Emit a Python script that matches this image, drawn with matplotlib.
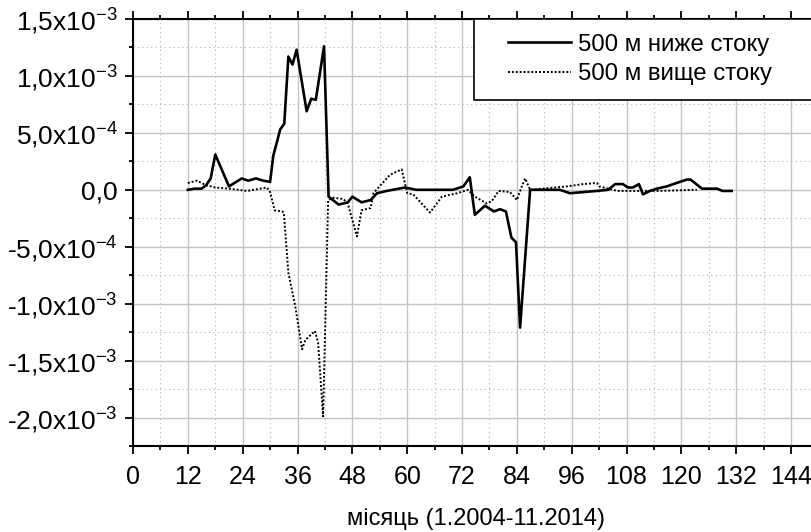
import matplotlib
matplotlib.use("Agg")
import matplotlib.pyplot as plt
import matplotlib.ticker as mticker
from matplotlib.lines import Line2D
from matplotlib.legend_handler import HandlerLine2D

plt.rcParams.update({
    "font.family": ["Liberation Sans", "DejaVu Sans"],
    "mathtext.fontset": "custom",
    "mathtext.rm": "Liberation Sans",
    "mathtext.it": "Liberation Sans:italic",
    "mathtext.bf": "Liberation Sans:bold",
})

# 500 м ниже стоку (solid)
below_month = [12, 13.5, 15, 16, 17, 18, 21, 22.6, 23.8, 25.2, 26.9, 28.5, 30,
               30.7, 31.5, 32.2, 33.1, 34, 34.9, 35.8, 38, 39, 40, 41.8, 42.8,
               45, 47, 48, 50, 52, 53.4, 55.5, 59.5, 62, 65, 70, 72.3, 73.7,
               74.8, 77, 79, 80.3, 81.6, 82.8, 83.8, 84.7, 86.9, 93.4, 95.6,
               101.5, 104, 105.5, 107.2, 108.3, 109.4, 110.7, 111.6, 113.1,
               114.6, 116.8, 119.7, 121.2, 122, 124.5, 127.8, 129, 131]
below_val = [0.0, 0.01e-3, 0.01e-3, 0.04e-3, 0.10e-3, 0.31e-3, 0.03e-3, 0.07e-3,
             0.10e-3, 0.08e-3, 0.10e-3, 0.08e-3, 0.07e-3,
             0.30e-3, 0.42e-3, 0.53e-3, 0.58e-3, 1.17e-3, 1.10e-3, 1.23e-3,
             0.69e-3, 0.80e-3, 0.79e-3, 1.26e-3, -0.06e-3,
             -0.13e-3, -0.11e-3, -0.06e-3, -0.11e-3, -0.09e-3, -0.03e-3, -0.01e-3,
             0.02e-3, 0.0, 0.0, 0.0, 0.03e-3, 0.11e-3,
             -0.22e-3, -0.14e-3, -0.19e-3, -0.17e-3, -0.19e-3, -0.42e-3, -0.46e-3,
             -1.21e-3, 0.0, 0.0, -0.03e-3,
             -0.01e-3, 0.0, 0.05e-3, 0.05e-3, 0.02e-3, 0.02e-3, 0.05e-3, -0.04e-3,
             -0.01e-3, 0.01e-3, 0.03e-3, 0.07e-3, 0.09e-3, 0.09e-3, 0.01e-3,
             0.01e-3, -0.01e-3, -0.01e-3]

# 500 м вище стоку (dotted)
above_month = [12, 14, 16, 18, 21, 25, 29.3, 30, 31, 32.6, 33, 34, 35.5, 37,
               37.7, 39.8, 40.5, 41.6, 42.7, 43.8, 46, 47, 49, 50, 52, 52.6,
               56.2, 58.8, 60, 61.3, 65, 67.6, 71, 73.3, 74.8, 77.4, 78.5, 80,
               82.5, 84, 85, 85.8, 86.9, 95, 98.5, 101.5, 102, 106, 115, 123.4]
above_val = [0.06e-3, 0.08e-3, 0.04e-3, 0.02e-3, 0.01e-3, -0.01e-3, 0.02e-3,
             -0.02e-3, -0.18e-3, -0.19e-3, -0.20e-3, -0.73e-3, -1.02e-3, -1.40e-3,
             -1.32e-3, -1.24e-3, -1.34e-3, -1.99e-3, -0.09e-3, -0.07e-3, -0.08e-3,
             -0.12e-3, -0.41e-3, -0.18e-3, -0.16e-3, -0.03e-3,
             0.13e-3, 0.18e-3, -0.03e-3, -0.04e-3, -0.20e-3, -0.06e-3, -0.03e-3,
             0.0, -0.06e-3, -0.12e-3, -0.10e-3, -0.01e-3,
             -0.02e-3, -0.09e-3, 0.02e-3, 0.10e-3, 0.0, 0.03e-3, 0.05e-3, 0.06e-3,
             0.03e-3, -0.01e-3, -0.01e-3, 0.0]

series_labels = ["500 м ниже стоку", "500 м вище стоку"]
x_ticks = list(range(0, 145, 12))
y_ticks = [1.5e-3, 1.0e-3, 5.0e-4, 0.0, -5.0e-4, -1.0e-3, -1.5e-3, -2.0e-3]
y_ticklabels = ["1,5x10$^{-3}$", "1,0x10$^{-3}$", "5,0x10$^{-4}$", "0,0",
                "-5,0x10$^{-4}$", "-1,0x10$^{-3}$", "-1,5x10$^{-3}$", "-2,0x10$^{-3}$"]
x_label = "місяць (1.2004-11.2014)"

W, H = 811, 532
fig = plt.figure(figsize=(W / 100, H / 100), dpi=100)
# axes runs past the right edge of the figure (cropped like the original)
ax = fig.add_axes([133 / W, 1 - 446 / H, 685.5 / W, 427 / H])

ax.plot(below_month, below_val, color="black", lw=1.9, label=series_labels[0], zorder=4)
ax.plot(above_month, above_val, color="black", lw=1.4, ls=(0, (1, 1)),
        label=series_labels[1], zorder=3)

ax.set_xlim(0, 150)
ax.set_ylim(-2.25e-3, 1.5e-3)
ax.set_xticks(x_ticks)
ax.xaxis.set_minor_locator(mticker.MultipleLocator(6))
ax.set_yticks(y_ticks)
ax.set_yticklabels(y_ticklabels)
ax.yaxis.set_minor_locator(mticker.MultipleLocator(2.5e-4))

ax.grid(True, which="major", color="#c4c4c4", lw=1.0, ls="-", zorder=0)
ax.grid(True, which="minor", color="#b0b0b0", lw=0.8, ls=(0, (1, 3)), zorder=0)
ax.set_axisbelow(True)

for side in ["left", "bottom", "top"]:
    ax.spines[side].set_linewidth(1.5)
    ax.spines[side].set_color("black")
ax.spines["right"].set_visible(False)

ax.tick_params(which="both", direction="out", top=True, right=False, width=1.3,
               color="black")
ax.tick_params(which="major", length=6)
ax.tick_params(which="minor", length=3)
ax.tick_params(axis="x", which="major", labelsize=18, pad=8)
ax.tick_params(axis="y", which="major", labelsize=19, pad=5)
ax.set_xlabel(x_label, fontsize=17, labelpad=13)

leg = ax.legend(loc="upper left", bbox_to_anchor=(341 / 685.5, 1.0, 0.7, 0),
                mode="expand", borderaxespad=0, fontsize=17.3, frameon=True,
                fancybox=False, framealpha=1, edgecolor="black",
                handlelength=3.4, handletextpad=0.3, labelspacing=0.3,
                borderpad=0.62, handler_map={Line2D: HandlerLine2D(xpad=0.8)})
leg.get_frame().set_linewidth(1.2)

fig.savefig("out.png", dpi=100)
